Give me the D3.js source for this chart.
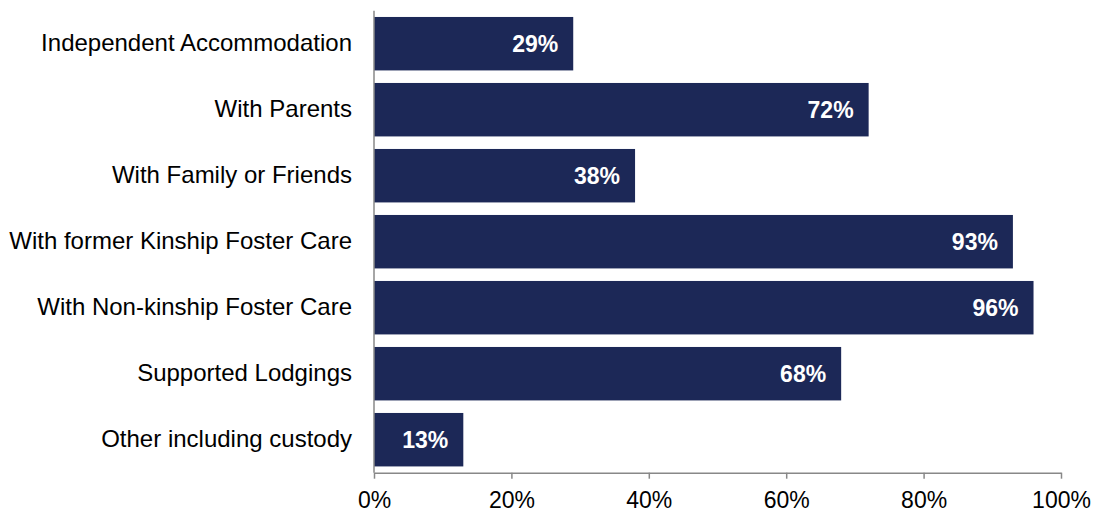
<!DOCTYPE html>
<html><head><meta charset="utf-8">
<script src="https://cdn.jsdelivr.net/npm/d3@7"></script>
<style>body{margin:0;background:#fff}svg{display:block}text{font-family:"Liberation Sans",Arial,sans-serif}</style>
</head><body>
<svg id="c" width="1095" height="514"></svg>
<script>
const categories = ["Independent Accommodation","With Parents","With Family or Friends","With former Kinship Foster Care","With Non-kinship Foster Care","Supported Lodgings","Other including custody"];
const values = [29,72,38,93,96,68,13];
const tickValues = [0,20,40,60,80,100];

const svg = d3.select("#c");
const x = d3.scaleLinear().domain([0,100]).range([374,1061]);
const y = d3.scaleBand().domain(categories).range([10.7,472.7]).paddingInner(0.19).paddingOuter(0.095);

svg.append("g").selectAll("rect").data(values).join("rect")
  .attr("x", x(0)).attr("y", (d,i)=>y(categories[i]))
  .attr("width", d=>x(d)-x(0)).attr("height", y.bandwidth())
  .attr("fill", "#1c2857");

svg.append("g").selectAll("text").data(values).join("text")
  .attr("x", d=>x(d)-15).attr("y", (d,i)=>y(categories[i])+y.bandwidth()/2)
  .attr("dy","0.35em").attr("text-anchor","end")
  .attr("fill","#fff").attr("font-weight","bold").attr("font-size","23px")
  .text(d=>d+"%");

// y axis
const ya = svg.append("g").attr("transform",`translate(${x(0)},0)`)
  .call(d3.axisLeft(y).tickSize(0).tickPadding(22));
ya.select(".domain").attr("stroke","#888").attr("stroke-width",1.5).attr("d","M0,10.7V472.7");
ya.selectAll("text").attr("font-size","24px").attr("fill","#000");

// x axis
const xa = svg.append("g").attr("transform","translate(0,472.7)")
  .call(d3.axisBottom(x).tickValues(tickValues).tickFormat(d=>d+"%").tickSizeInner(6).tickSizeOuter(0).tickPadding(13));
xa.select(".domain").attr("stroke","#888").attr("stroke-width",1.5);
xa.selectAll(".tick line").attr("stroke","#888").attr("stroke-width",1.5);
xa.selectAll("text").attr("font-size","23px").attr("fill","#000");
</script>
</body></html>
